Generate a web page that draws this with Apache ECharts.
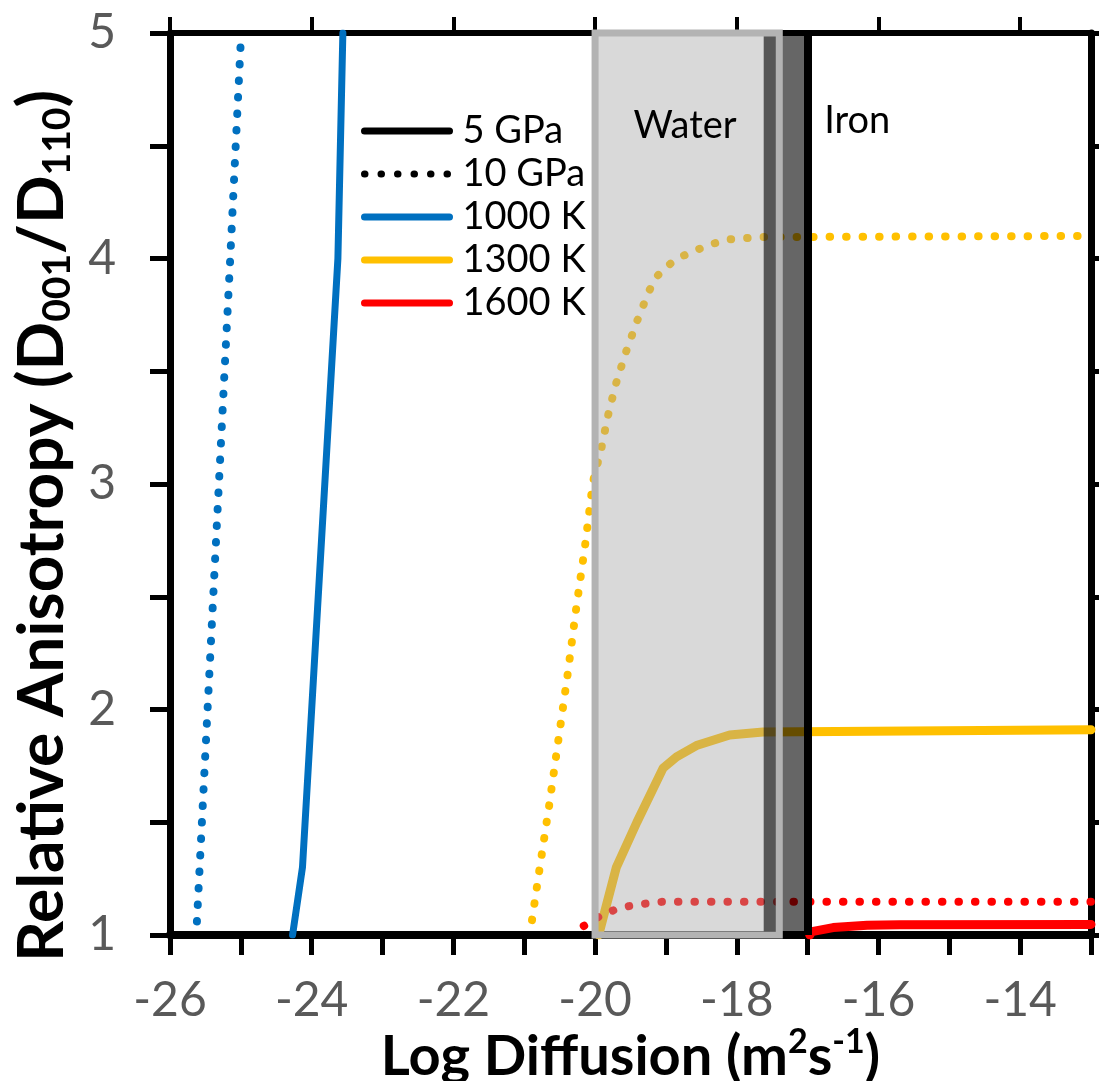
<!DOCTYPE html>
<html>
<head>
<meta charset="utf-8">
<title>Relative Anisotropy</title>
<script src="https://cdn.jsdelivr.net/npm/echarts@6/dist/echarts.min.js"></script>
<style>
  html, body { margin: 0; padding: 0; background: #fff; }
  #chart { width: 1099px; height: 1081px; }
</style>
</head>
<body>
<div id="chart"></div>
<script>
// axis ranges / ticks
const xRange = [-26, -13]
const yRange = [1, 5]
const topTicks = [-26, -24, -22, -20, -18, -16, -14]
const legendNames = ['5 GPa', '10 GPa', '1000 K', '1300 K', '1600 K']

// 5 GPa curves (solid)
const blue5 = [[-24.27, 1.0], [-24.13, 1.3], [-23.63, 4.0], [-23.56, 5.0]]
const yellow5 = [[-19.95, 1.0], [-19.7, 1.3], [-19.41, 1.5], [-19.04, 1.74], [-18.85, 1.79], [-18.57, 1.84], [-18.1, 1.887], [-17.63, 1.9], [-13, 1.91]]
const red5 = [[-16.97, 1.0], [-16.94, 1.015], [-16.64, 1.033], [-16.16, 1.043], [-15.7, 1.046], [-13, 1.047]]

// 10 GPa curves (dotted)
const blue10 = [[-25.62, 1.06], [-25.47, 2.0], [-25.31, 3.0], [-25.15, 4.0], [-25.0, 4.97]]
const yellow10 = [[-20.89, 1.066], [-20.79, 1.28], [-20.65, 1.57], [-20.52, 1.86], [-20.39, 2.15], [-20.27, 2.44],
  [-20.14, 2.73], [-20.03, 3.01], [-19.91, 3.16], [-19.82, 3.3], [-19.71, 3.44], [-19.57, 3.58], [-19.41, 3.72],
  [-19.24, 3.855], [-19.13, 3.92], [-18.97, 3.97], [-18.77, 4.01], [-18.55, 4.04], [-18.34, 4.065], [-18.12, 4.085],
  [-17.88, 4.09], [-17.65, 4.095], [-13, 4.1]]
const red10 = [[-20.16, 1.04], [-19.95, 1.08], [-19.74, 1.11], [-19.52, 1.128], [-19.29, 1.139], [-19.06, 1.147], [-18.5, 1.148], [-13, 1.148]]

// shaded regions
const waterRange = [-20, -17.4]
const ironBand = [-17.62, -17]
const ironLine = -17
const regionNames = ['Water', 'Iron']
const regionCoords = [[-18.73, 4.59], [-16.3, 4.61]]

const FONT = 'Lato'
const BLUE = '#0070c0'
const YELLOW = '#ffc000'
const RED = '#ff0000'
const DOTS = [0.5, 16]

function solid(name, data, color, width) {
  return {
    name: name,
    type: 'line',
    data: data,
    symbol: 'none',
    color: color,
    lineStyle: { color: color, width: width, cap: 'round', join: 'round' },
    z: 2
  }
}

function dotted(name, data, color) {
  return {
    name: name,
    type: 'line',
    data: data,
    symbol: 'none',
    color: color,
    lineStyle: { color: color, width: 8, type: DOTS, cap: 'round' },
    z: 2
  }
}

const chart = echarts.init(document.getElementById('chart'))

chart.setOption({
  animation: false,
  grid: { left: 170, right: 8, top: 33, bottom: 146, containLabel: false, outerBoundsMode: 'none' },
  legend: {
    orient: 'vertical',
    left: 356,
    top: 107,
    itemWidth: 85,
    itemHeight: 14,
    itemGap: 5,
    data: legendNames,
    itemStyle: { opacity: 0 },
    lineStyle: { width: 7 },
    textStyle: { fontFamily: FONT, fontSize: 38, color: '#000', padding: [0, 0, 0, 8] }
  },
  xAxis: [{
    type: 'value',
    position: 'bottom',
    min: xRange[0],
    max: xRange[1],
    interval: 1,
    splitLine: { show: false },
    axisLine: { lineStyle: { color: '#000', width: 8 } },
    axisTick: { length: 20, lineStyle: { color: '#000', width: 5 } },
    axisLabel: {
      margin: 42,
      color: '#595959',
      fontFamily: FONT,
      fontSize: 48,
      formatter(v) {
        return v % 2 === 0 ? String(v) : ''
      }
    },
    name: '{n|Log Diffusion (m}{sup|2}{n|s}{sup|-1}{n|)}',
    nameLocation: 'middle',
    nameGap: 90,
    nameMoveOverlap: false,
    nameTextStyle: {
      rich: {
        n: { fontFamily: FONT, fontWeight: 'bold', fontSize: 56, color: '#000', lineHeight: 64 },
        sup: { fontFamily: FONT, fontWeight: 'bold', fontSize: 34, color: '#000', lineHeight: 52, verticalAlign: 'top' }
      }
    }
  }, {
    type: 'value',
    position: 'top',
    min: xRange[0],
    max: xRange[1],
    interval: 2,
    splitLine: { show: false },
    axisLine: { lineStyle: { color: '#000', width: 6 } },
    axisTick: { customValues: topTicks, length: 16, lineStyle: { color: '#000', width: 4 } },
    axisLabel: { show: false }
  }],
  yAxis: [{
    type: 'value',
    position: 'left',
    min: yRange[0],
    max: yRange[1],
    interval: 0.5,
    splitLine: { show: false },
    axisLine: { lineStyle: { color: '#000', width: 7 } },
    axisTick: { length: 20, lineStyle: { color: '#000', width: 5 } },
    axisLabel: {
      margin: 54,
      color: '#595959',
      fontFamily: FONT,
      fontSize: 48,
      formatter(v) {
        return Number.isInteger(v) ? String(v) : ''
      }
    },
    name: '{n|Relative Anisotropy (D}{sub|001}{n|/D}{sub|110}{n|)}',
    nameLocation: 'middle',
    nameGap: 84,
    nameTextStyle: {
      padding: [0, 84, 0, 0],
      rich: {
        n: { fontFamily: FONT, fontWeight: 'bold', fontSize: 64, color: '#000', lineHeight: 70 },
        sub: { fontFamily: FONT, fontWeight: 'bold', fontSize: 39, color: '#000', lineHeight: 32, verticalAlign: 'bottom' }
      }
    }
  }, {
    type: 'value',
    position: 'right',
    min: yRange[0],
    max: yRange[1],
    interval: 0.5,
    splitLine: { show: false },
    axisLine: { lineStyle: { color: '#000', width: 7 } },
    axisTick: { length: 12, lineStyle: { color: '#000', width: 5 } },
    axisLabel: { show: false }
  }],
  series: [
    // legend-only entries for pressure styles
    { name: '5 GPa', type: 'line', data: [], symbol: 'none', color: '#000', lineStyle: { color: '#000', width: 7, cap: 'round' } },
    { name: '10 GPa', type: 'line', data: [], symbol: 'none', color: '#000', lineStyle: { color: '#000', width: 8, type: DOTS, cap: 'round' } },
    solid('1000 K', blue5, BLUE, 7),
    solid('1300 K', yellow5, YELLOW, 9),
    solid('1600 K', red5, RED, 9),
    dotted('1000 K', blue10, BLUE),
    dotted('1300 K', yellow10, YELLOW),
    dotted('1600 K', red10, RED),
    {
      name: 'water fill',
      type: 'line',
      data: [],
      markArea: {
        silent: true,
        z: 10,
        itemStyle: { color: 'rgba(164,164,164,0.42)' },
        data: [[{ xAxis: waterRange[0] }, { xAxis: waterRange[1] }]]
      }
    },
    {
      name: 'iron band',
      type: 'line',
      data: [],
      markArea: {
        silent: true,
        z: 11,
        itemStyle: { color: 'rgba(0,0,0,0.6)' },
        data: [[{ xAxis: ironBand[0] }, { xAxis: ironBand[1] }]]
      }
    },
    {
      name: 'water border',
      type: 'line',
      data: [],
      markArea: {
        silent: true,
        z: 12,
        itemStyle: { color: 'rgba(0,0,0,0)', borderColor: '#b3b3b3', borderWidth: 7 },
        data: [[{ xAxis: waterRange[0] }, { xAxis: waterRange[1] }]]
      }
    },
    {
      name: 'iron line',
      type: 'line',
      data: [],
      markLine: {
        silent: true,
        z: 13,
        symbol: ['none', 'none'],
        label: { show: false },
        lineStyle: { color: '#000', width: 8, type: 'solid' },
        data: [{ xAxis: ironLine }]
      },
      markPoint: {
        silent: true,
        z: 14,
        symbol: 'circle',
        symbolSize: 0,
        label: {
          show: true,
          position: 'inside',
          formatter: '{b}',
          color: '#000',
          fontFamily: FONT,
          fontSize: 38
        },
        data: regionNames.map((n, i) => ({ name: n, coord: regionCoords[i] }))
      }
    }
  ]
})
</script>
</body>
</html>
